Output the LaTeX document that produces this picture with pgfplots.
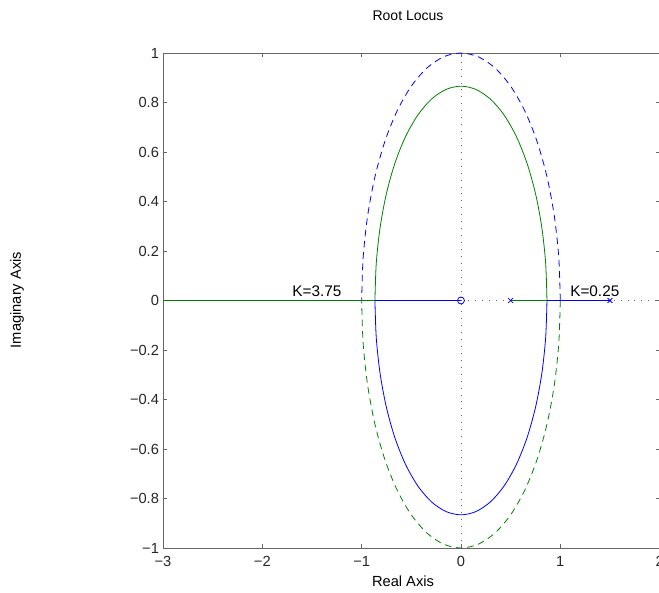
\documentclass[border=0pt]{standalone}
\usepackage{fontspec}
\setmainfont{Liberation Sans}
\usepackage{pgfplots}
\pgfplotsset{compat=1.18}
\definecolor{mblue}{RGB}{0,0,255}
\definecolor{mgreen}{RGB}{0,128,0}
\begin{document}
\begin{tikzpicture}
\begin{axis}[
  at={(0,0)}, anchor=south west,
  scale only axis, width=372.45pt, height=371.25pt,
  xmin=-3, xmax=2, ymin=-1, ymax=1,
  xtick={-3,-2,-1,0,1,2}, xticklabels={−3,−2,−1,0,1,2},
  ytick={-1,-0.8,-0.6,-0.4,-0.2,0,0.2,0.4,0.6,0.8,1},
  yticklabels={−1,−0.8,−0.6,−0.4,−0.2,0,0.2,0.4,0.6,0.8,1},
  tick align=inside, major tick length=3pt,
  axis line style={black!60, line width=0.6pt},
  tick style={black!60, line width=0.6pt},
  tick label style={font=\fontsize{11}{13}\selectfont, text=black!85},
  yticklabel style={xshift=0.5pt},
  xticklabel style={yshift=-3pt},
  clip=false,
]
% dotted axes
\addplot[black!60, line width=0.6pt, dash pattern=on 0.7pt off 4.5pt] coordinates {(-3,0) (2,0)};
\addplot[black!60, line width=0.6pt, dash pattern=on 0.7pt off 4.5pt] coordinates {(0,-1) (0,1)};
% dashed unit circle
\addplot[mblue, line width=0.6pt, dash pattern=on 5pt off 3.5pt, smooth] coordinates {
(1,0) (0.9848,0.1736) (0.9397,0.3420) (0.8660,0.5) (0.7660,0.6428) (0.6428,0.7660) (0.5,0.8660) (0.3420,0.9397) (0.1736,0.9848) (0,1) (-0.1736,0.9848) (-0.3420,0.9397) (-0.5,0.8660) (-0.6428,0.7660) (-0.7660,0.6428) (-0.8660,0.5) (-0.9397,0.3420) (-0.9848,0.1736) (-1,0)};
\addplot[mgreen, line width=0.6pt, dash pattern=on 5pt off 3.5pt, smooth] coordinates {
(1,0) (0.9848,-0.1736) (0.9397,-0.3420) (0.8660,-0.5) (0.7660,-0.6428) (0.6428,-0.7660) (0.5,-0.8660) (0.3420,-0.9397) (0.1736,-0.9848) (0,-1) (-0.1736,-0.9848) (-0.3420,-0.9397) (-0.5,-0.8660) (-0.6428,-0.7660) (-0.7660,-0.6428) (-0.8660,-0.5) (-0.9397,-0.3420) (-0.9848,-0.1736) (-1,0)};
% solid circle r=0.866
\addplot[mgreen, line width=0.6pt, smooth] coordinates {
(0.866,0) (0.8528,0.1504) (0.8138,0.2962) (0.75,0.433) (0.6634,0.5567) (0.5567,0.6634) (0.433,0.75) (0.2962,0.8138) (0.1504,0.8528) (0,0.866) (-0.1504,0.8528) (-0.2962,0.8138) (-0.433,0.75) (-0.5567,0.6634) (-0.6634,0.5567) (-0.75,0.433) (-0.8138,0.2962) (-0.8528,0.1504) (-0.866,0)};
\addplot[mblue, line width=0.6pt, smooth] coordinates {
(0.866,0) (0.8528,-0.1504) (0.8138,-0.2962) (0.75,-0.433) (0.6634,-0.5567) (0.5567,-0.6634) (0.433,-0.75) (0.2962,-0.8138) (0.1504,-0.8528) (0,-0.866) (-0.1504,-0.8528) (-0.2962,-0.8138) (-0.433,-0.75) (-0.5567,-0.6634) (-0.6634,-0.5567) (-0.75,-0.433) (-0.8138,-0.2962) (-0.8528,-0.1504) (-0.866,0)};
% real-axis branches
\addplot[mgreen, line width=0.6pt] coordinates {(-3,0) (-0.866,0)};
\addplot[mblue, line width=0.6pt] coordinates {(-0.866,0) (0,0)};
\addplot[mgreen, line width=0.6pt] coordinates {(0.5,0) (0.866,0)};
\addplot[mblue, line width=0.6pt] coordinates {(0.866,0) (1.5,0)};
% poles and zero
\addplot[mblue, only marks, mark=x, mark size=2.6pt, line width=0.6pt] coordinates {(0.5,0) (1.5,0)};
\addplot[mblue, only marks, mark=o, mark size=2.6pt, line width=0.6pt] coordinates {(0,0)};
\node[anchor=base west, inner sep=0pt, font=\fontsize{11.5}{13}\selectfont] at (axis cs:-1.70,0.018) {K=3.75};
\node[anchor=base west, inner sep=0pt, font=\fontsize{11.5}{13}\selectfont] at (axis cs:1.098,0.018) {K=0.25};
\end{axis}
\node[font=\fontsize{10.5}{12}\selectfont] at (183.75pt,399pt) {Root Locus};
\node[font=\fontsize{11}{13}\selectfont] at (180pt,-24.75pt) {Real Axis};
\node[rotate=90, font=\fontsize{11}{13}\selectfont] at (-109.5pt,186pt) {Imaginary Axis};
\pgfresetboundingbox
\path (-122.25pt,-33pt) rectangle (372pt,411pt);
\end{tikzpicture}
\end{document}
